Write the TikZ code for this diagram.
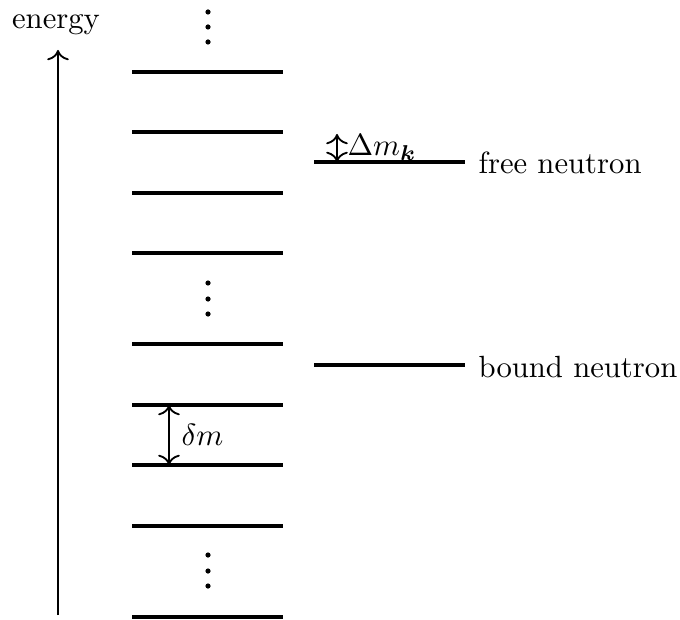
\documentclass[tikz,border=0pt]{standalone}
\usepackage{amsmath}
\usetikzlibrary{arrows.meta}
\begin{document}
\begin{tikzpicture}[x=0.326pt,y=-0.326pt,
  level/.style={line width=1pt},
  arr/.style={semithick,>={To[scale=1.15]}},
  dotc/.style={fill=black},
  lbl/.style={inner sep=0pt}]
\useasboundingbox (0,0) rectangle (680,619);
% energy axis
\coordinate (eb) at (58,615);
\coordinate (et) at (58,50);
\draw[arr,->] (eb) -- (et);
\node[lbl,anchor=base] (energy) at (56,29) {energy};
% levels
\foreach \y/\n in {72/l1,132/l2,193/l3,253/l4,344/l5,405/l6,465/l7,526/l8,617/l9}{
  \coordinate (\n a) at (132,\y);
  \coordinate (\n b) at (283,\y);
  \draw[level] (\n a) -- (\n b);
}
% dots
\foreach \y in {12,27,42,283,299,314,555,571,586}{
  \fill[dotc] (208,\y) circle (2.6);
}
% free and bound neutron
\coordinate (fa) at (314,162);
\coordinate (fb) at (465,162);
\draw[level] (fa) -- (fb);
\node[lbl,anchor=base west] (free) at (478,174) {free neutron};
\coordinate (ba) at (314,365);
\coordinate (bb) at (465,365);
\draw[level] (ba) -- (bb);
\node[lbl,anchor=base west] (bound) at (478,377) {bound neutron};
% delta m
\coordinate (dt) at (169,405);
\coordinate (db) at (169,465);
\draw[arr,<->] (dt) -- (db);
\node[lbl,anchor=base west] (dm) at (181,445) {$\delta m$};
% Delta m_k
\coordinate (Dt) at (337,134);
\coordinate (Db) at (337,162);
\draw[arr,<->] (Dt) -- (Db);
\node[lbl,anchor=base west] (Dm) at (347,156) {$\Delta m_{\boldsymbol{k}}$};
\end{tikzpicture}
\end{document}
